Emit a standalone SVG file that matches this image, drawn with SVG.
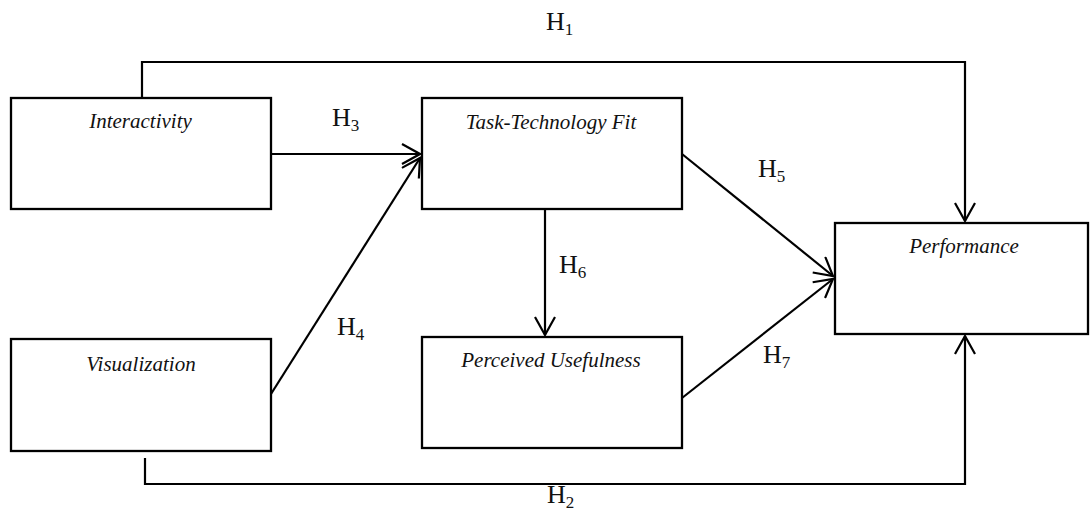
<svg xmlns="http://www.w3.org/2000/svg" width="1091" height="513" viewBox="0 0 1091 513">
<style>
.box{fill:#fff;stroke:#000;stroke-width:2.3}
.lbl{font-family:"Liberation Serif","Times New Roman",serif;font-style:italic;font-size:21px;fill:#111;text-anchor:middle}
.h{font-family:"Liberation Serif","Times New Roman",serif;font-size:26px;fill:#111}
.sub{font-size:17px}
.con{fill:none;stroke:#000;stroke-width:2.2}
</style>
<defs>
<marker id="arr" viewBox="0 0 22 22" refX="20" refY="11" markerWidth="22" markerHeight="22" markerUnits="userSpaceOnUse" orient="auto">
<path d="M2,1 L20,11 L2,21" fill="none" stroke="#000" stroke-width="2.2"/>
</marker>
</defs>
<g id="connectors">
<path class="con" d="M142,98 V62 H965 V221" marker-end="url(#arr)"/>
<path class="con" d="M145,458 V484 H965 V336" marker-end="url(#arr)"/>
<path class="con" d="M271,154 H420" marker-end="url(#arr)"/>
<path class="con" d="M271,394 L420,158" marker-end="url(#arr)"/>
<path class="con" d="M682,154 L833,276" marker-end="url(#arr)"/>
<path class="con" d="M545,209 V335" marker-end="url(#arr)"/>
<path class="con" d="M682,398 L833,279" marker-end="url(#arr)"/>
</g>
<g id="interactivity">
<rect class="box" x="11" y="98" width="260" height="111"/>
<text class="lbl" x="140.5" y="128">Interactivity</text>
</g>
<g id="visualization">
<rect class="box" x="11" y="339" width="260" height="112"/>
<text class="lbl" x="141" y="371">Visualization</text>
</g>
<g id="ttf">
<rect class="box" x="422" y="98" width="260" height="111"/>
<text class="lbl" x="551" y="129">Task-Technology Fit</text>
</g>
<g id="pu">
<rect class="box" x="422" y="337" width="260" height="111"/>
<text class="lbl" x="551" y="367">Perceived Usefulness</text>
</g>
<g id="performance">
<rect class="box" x="835" y="223" width="253" height="111"/>
<text class="lbl" x="964" y="253">Performance</text>
</g>
<g id="labels">
<text class="h" x="546" y="30">H<tspan class="sub" dy="5">1</tspan></text>
<text class="h" x="547" y="503">H<tspan class="sub" dy="5">2</tspan></text>
<text class="h" x="332" y="126">H<tspan class="sub" dy="5">3</tspan></text>
<text class="h" x="337" y="335">H<tspan class="sub" dy="5">4</tspan></text>
<text class="h" x="758" y="177">H<tspan class="sub" dy="5">5</tspan></text>
<text class="h" x="559" y="273">H<tspan class="sub" dy="5">6</tspan></text>
<text class="h" x="763" y="363">H<tspan class="sub" dy="5">7</tspan></text>
</g>
</svg>
